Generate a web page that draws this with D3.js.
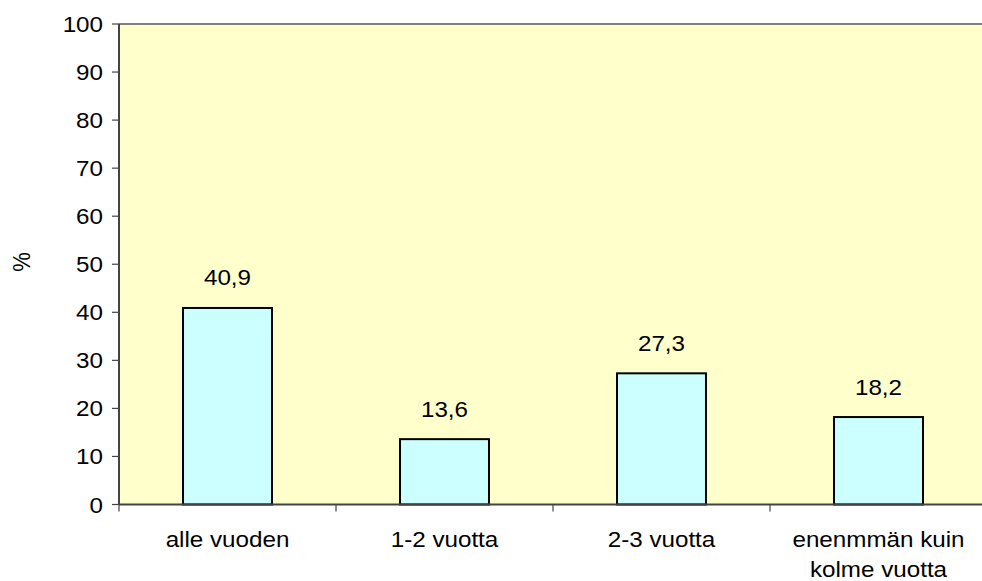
<!DOCTYPE html>
<html><head><meta charset="utf-8">
<script src="https://cdn.jsdelivr.net/npm/d3@7/dist/d3.min.js"></script>
<style>html,body{margin:0;padding:0;background:#fff;overflow:hidden}</style>
</head><body>
<script>
const categories = [["alle vuoden"], ["1-2 vuotta"], ["2-3 vuotta"], ["enenmmän kuin", "kolme vuotta"]];
const values = [40.9, 13.6, 27.3, 18.2];
const valueLabels = ["40,9", "13,6", "27,3", "18,2"];
const yTicks = [0, 10, 20, 30, 40, 50, 60, 70, 80, 90, 100];
const yTitle = "%";

const W = 982, H = 581;
const L = 119, R = 987, T = 24, B = 504.5;
const SX = 1.1;
const FS = 22;
const font = "'Liberation Sans', Arial, sans-serif";

const svg = d3.select("body").append("svg").attr("width", W).attr("height", H);

const x = d3.scaleBand().domain(d3.range(categories.length)).range([L, R]).paddingInner(0.59).paddingOuter(0.295);
const xTickScale = d3.scaleLinear().domain([0, categories.length]).range([L, R]);
const y = d3.scaleLinear().domain([0, 100]).range([B, T]);

svg.append("rect").attr("x", L).attr("y", T).attr("width", R - L).attr("height", B - T).attr("fill", "#FFFFCC");
svg.append("line").attr("x1", L).attr("x2", R).attr("y1", T).attr("y2", T).attr("stroke", "#808080").attr("stroke-width", 2);

svg.selectAll("rect.bar").data(values).enter().append("rect").attr("class", "bar")
  .attr("x", (d, i) => x(i)).attr("width", x.bandwidth())
  .attr("y", d => y(d)).attr("height", d => B - y(d))
  .attr("fill", "#CCFFFF").attr("stroke", "#000").attr("stroke-width", 2);

svg.append("line").attr("x1", L).attr("x2", L).attr("y1", T).attr("y2", B).attr("stroke", "#444").attr("stroke-width", 2);
svg.append("line").attr("x1", L).attr("x2", R).attr("y1", B).attr("y2", B).attr("stroke", "#444").attr("stroke-width", 2);

const yg = svg.append("g");
yTicks.forEach(t => {
  yg.append("line").attr("x1", L - 7).attr("x2", L).attr("y1", y(t)).attr("y2", y(t)).attr("stroke", "#444").attr("stroke-width", 1.2);
  yg.append("text").attr("transform", `translate(${103},${y(t) + 8}) scale(${SX},1)`)
    .attr("text-anchor", "end").attr("font-family", font).attr("font-size", FS).attr("fill", "#000").text(t);
});

d3.range(categories.length + 1).forEach(i => {
  svg.append("line").attr("x1", xTickScale(i)).attr("x2", xTickScale(i)).attr("y1", B).attr("y2", B + 7).attr("stroke", "#444").attr("stroke-width", 1.2);
});

categories.forEach((lines, i) => {
  const cx = x(i) + x.bandwidth() / 2;
  lines.forEach((ln, j) => {
    svg.append("text").attr("transform", `translate(${cx},${547 + j * 30}) scale(${SX},1)`)
      .attr("text-anchor", "middle").attr("font-family", font).attr("font-size", FS).attr("fill", "#000").text(ln);
  });
});

values.forEach((v, i) => {
  const cx = x(i) + x.bandwidth() / 2;
  svg.append("text").attr("transform", `translate(${cx},${y(v) - 22.5}) scale(${SX},1)`)
    .attr("text-anchor", "middle").attr("font-family", font).attr("font-size", FS).attr("fill", "#000").text(valueLabels[i]);
});

svg.append("text").attr("transform", `translate(30,262) rotate(-90) scale(1,${SX})`)
  .attr("text-anchor", "middle").attr("font-family", font).attr("font-size", FS).attr("fill", "#000").text(yTitle);
</script>
</body></html>
